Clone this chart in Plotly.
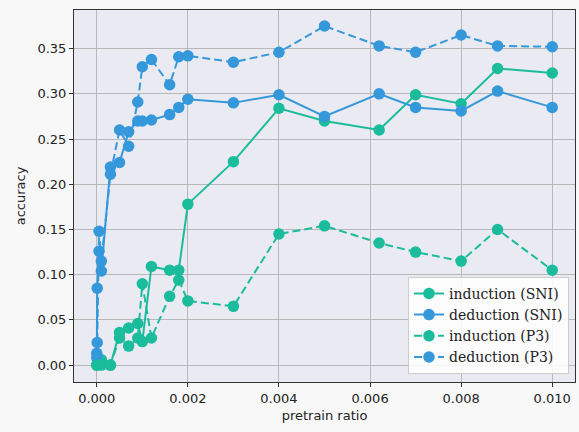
import plotly.graph_objects as go

# ---- data ----
x_ind = [0, 0.0001, 0.0003, 0.0005, 0.0007, 0.0009, 0.001, 0.0012, 0.0016, 0.0018,
         0.002, 0.003, 0.004, 0.005, 0.0062, 0.007, 0.008, 0.0088, 0.01]
ind_sni = [0.0, 0.006, 0.0, 0.036, 0.041, 0.046, 0.026, 0.109, 0.105, 0.105,
           0.178, 0.225, 0.284, 0.270, 0.260, 0.299, 0.289, 0.328, 0.323]
ind_p3 = [0.0, 0.0, 0.0, 0.030, 0.021, 0.030, 0.090, 0.030, 0.076, 0.094,
          0.071, 0.065, 0.145, 0.154, 0.135, 0.125, 0.115, 0.150, 0.105]

x_ded = [0, 0.00001, 0.00005, 0.0001, 0.0003, 0.0005, 0.0007, 0.0009, 0.001, 0.0012,
         0.0016, 0.0018, 0.002, 0.003, 0.004, 0.005, 0.0062, 0.007, 0.008, 0.0088, 0.01]
ded_sni = [0.008, 0.085, 0.126, 0.104, 0.219, 0.224, 0.258, 0.270, 0.270, 0.271,
           0.277, 0.285, 0.294, 0.290, 0.299, 0.275, 0.300, 0.285, 0.281, 0.303, 0.285]
ded_p3 = [0.013, 0.025, 0.148, 0.115, 0.211, 0.260, 0.242, 0.291, 0.330, 0.338,
          0.310, 0.341, 0.342, 0.335, 0.346, 0.375, 0.353, 0.346, 0.365, 0.353, 0.352]

x_ticks = [0.0, 0.002, 0.004, 0.006, 0.008, 0.010]
y_ticks = [0.0, 0.05, 0.10, 0.15, 0.20, 0.25, 0.30, 0.35]

GREEN = "#1abc9c"
BLUE = "#3498db"

fig = go.Figure()
series = [
    ("induction (SNI)", x_ind, ind_sni, GREEN, "solid"),
    ("deduction (SNI)", x_ded, ded_sni, BLUE, "solid"),
    ("induction (P3)", x_ind, ind_p3, GREEN, "8px,4px"),
    ("deduction (P3)", x_ded, ded_p3, BLUE, "8px,4px"),
]
for name, xs, ys, col, dash in series:
    fig.add_trace(go.Scatter(
        x=xs, y=ys, name=name, mode="lines+markers",
        line=dict(color=col, width=2, dash=dash),
        marker=dict(color=col, size=11.5, line=dict(width=0)),
    ))

axis_common = dict(
    showgrid=True, gridcolor="#b8b8b8", gridwidth=1,
    showline=True, linecolor="#333333", linewidth=1, mirror=True,
    ticks="outside", ticklen=4, tickcolor="#333333",
    zeroline=False,
    tickfont=dict(family="DejaVu Sans", size=13, color="#222222"),
)

fig.update_layout(
    width=579, height=432,
    margin=dict(l=74, r=4, t=10, b=50),
    paper_bgcolor="#f8f8f8",
    plot_bgcolor="#eaeaf2",
    font=dict(family="DejaVu Sans", size=13, color="#222222"),
    xaxis=dict(range=[-0.0005, 0.0105], tickvals=x_ticks,
               ticktext=[f"{v:.3f}" for v in x_ticks],
               title=dict(text="pretrain ratio", font=dict(size=13), standoff=6),
               **axis_common),
    yaxis=dict(range=[-0.0187, 0.3927], tickvals=y_ticks,
               ticktext=[f"{v:.2f}" for v in y_ticks],
               title=dict(text="accuracy", font=dict(size=13), standoff=8),
               **axis_common),
    legend=dict(
        x=0.988, y=0.022, xanchor="right", yanchor="bottom",
        bgcolor="rgba(255,255,255,0.85)", bordercolor="#cccccc", borderwidth=1,
        font=dict(family="DejaVu Serif", size=14, color="#222222"),
        tracegroupgap=0, itemwidth=30,
    ),
    showlegend=True,
)

fig.write_html(
    "out.html",
    config={"displayModeBar": False},
    post_script="document.body.style.margin='0';document.body.style.background='#f8f8f8';",
)
